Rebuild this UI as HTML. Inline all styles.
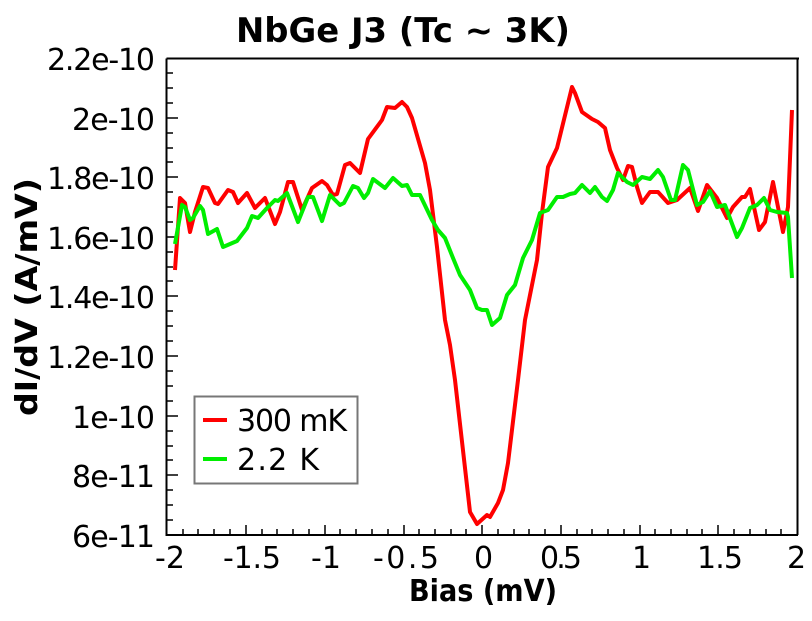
<!DOCTYPE html>
<html><head><meta charset="utf-8"><style>
body{margin:0;background:#fff;}
svg{display:block;font-family:"DejaVu Sans","Liberation Sans",sans-serif;}
</style></head><body>
<svg width="812" height="621" viewBox="0 0 812 621" xmlns="http://www.w3.org/2000/svg">
<rect width="812" height="621" fill="#fff"/>
<text x="236" y="42" font-size="34" font-weight="bold" textLength="334" lengthAdjust="spacingAndGlyphs">NbGe J3 (Tc ~ 3K)</text>
<g stroke="#000" stroke-width="2" fill="none">
<line x1="166.5" y1="58.5" x2="799" y2="58.5"/>
<line x1="797.5" y1="58.5" x2="797.5" y2="535"/>
<line x1="166.5" y1="58.5" x2="166.5" y2="536"/>
<line x1="166" y1="535" x2="798" y2="535"/>
</g>
<g stroke="#000" stroke-width="1.5">
<path d="M166 118h12M166 177h12M166 237h12M166 296h12M166 356h12M166 416h12M166 475h12"/>
<path d="M166 73h7M166 88h7M166 103h7M166 133h7M166 148h7M166 162h7M166 192h7M166 207h7M166 222h7M166 252h7M166 267h7M166 281h7M166 311h7M166 326h7M166 341h7M166 371h7M166 386h7M166 401h7M166 431h7M166 446h7M166 460h7M166 490h7M166 505h7M166 520h7"/>
<path d="M246 535v-10M325 535v-10M404 535v-10M482 535v-10M561 535v-10M640 535v-10M718 535v-10"/>
<path d="M183 535v-6M198 535v-6M214 535v-6M230 535v-6M262 535v-6M277 535v-6M293 535v-6M309 535v-6M340 535v-6M356 535v-6M372 535v-6M388 535v-6M419 535v-6M435 535v-6M451 535v-6M466 535v-6M498 535v-6M514 535v-6M529 535v-6M545 535v-6M577 535v-6M592 535v-6M608 535v-6M624 535v-6M655 535v-6M671 535v-6M687 535v-6M702 535v-6M734 535v-6M750 535v-6M766 535v-6M781 535v-6"/>
</g>
<g font-size="30" lengthAdjust="spacingAndGlyphs">
<text x="47" y="70" textLength="108">2.2e-10</text>
<text x="72" y="130" textLength="83">2e-10</text>
<text x="47" y="189" textLength="108">1.8e-10</text>
<text x="47" y="249" textLength="108">1.6e-10</text>
<text x="47" y="308" textLength="108">1.4e-10</text>
<text x="47" y="368" textLength="108">1.2e-10</text>
<text x="72" y="428" textLength="83">1e-10</text>
<text x="72" y="487" textLength="83">8e-11</text>
<text x="72" y="547" textLength="83">6e-11</text>
</g>
<g font-size="30" lengthAdjust="spacingAndGlyphs">
<text x="155" y="568" textLength="30">-2</text>
<text x="223" y="568" textLength="58">-1.5</text>
<text x="311" y="568" textLength="30">-1</text>
<text x="373" y="568" textLength="66">-0.5</text>
<text x="474" y="568" textLength="17">0</text>
<text x="540" y="568" textLength="42">0.5</text>
<text x="632" y="568" textLength="14">1</text>
<text x="697" y="568" textLength="46">1.5</text>
<text x="787" y="568" textLength="18">2</text>
</g>
<text x="409" y="601" font-size="30" font-weight="bold" textLength="148" lengthAdjust="spacingAndGlyphs">Bias (mV)</text>
<text transform="translate(37,416) rotate(-90)" font-size="30" font-weight="bold" textLength="238" lengthAdjust="spacingAndGlyphs">dI/dV (A/mV)</text>
<polyline fill="none" stroke="#ff0000" stroke-width="4" stroke-linejoin="round" points="175,270 180,198 185,203 190,232 195,212 203,187 208,188 215,203 218,204 228,190 233,192 238,203 247,193 255,208 265,198 275,224 280,212 288,182 293,182 302,210 312,188 322,181 327,185 333,195 337,194 345,165 350,163 360,173 368,139 382,120 387,107 395,108 402,102 407,107 412,118 425,163 430,190 437,247 445,320 450,345 455,380 470,512 477,524 487,515 490,517 498,503 503,490 508,463 518,380 525,320 537,260 542,213 548,167 557,148 572,87 575,93 582,112 592,119 598,122 605,128 610,150 617,168 623,180 628,166 632,167 637,187 642,203 650,192 658,192 668,203 677,200 690,188 698,211 707,185 717,198 727,218 733,207 742,197 745,197 750,189 759,230 765,222 773,182 783,232 788,207 792,110"/>
<polyline fill="none" stroke="#00ee00" stroke-width="4" stroke-linejoin="round" points="175,244 182,205 185,207 190,220 193,218 200,206 203,210 208,234 217,229 223,247 237,241 247,228 252,216 258,218 267,208 275,200 278,201 287,193 298,222 308,197 313,197 322,221 330,195 340,205 344,203 353,186 358,188 364,198 368,193 373,179 385,188 393,178 402,186 407,185 412,195 420,195 432,220 438,230 445,238 453,258 460,275 470,290 477,308 482,310 487,310 492,325 500,318 507,295 515,285 523,258 532,240 540,213 548,210 557,197 563,197 570,194 575,193 582,185 590,193 595,187 602,197 607,201 613,190 618,173 627,182 633,185 642,177 650,179 658,170 663,177 671,200 675,200 683,165 688,170 697,205 703,202 710,191 717,207 725,205 737,237 742,228 750,208 757,205 764,198 770,210 777,212 787,213 788,217 792,278"/>
<rect x="194.5" y="396.5" width="163" height="87" fill="#fff" stroke="#777" stroke-width="2"/>
<line x1="203" y1="420" x2="227" y2="420" stroke="#ff0000" stroke-width="4"/>
<line x1="203" y1="459" x2="227" y2="459" stroke="#00ee00" stroke-width="4"/>
<g font-size="30" lengthAdjust="spacingAndGlyphs"><text x="237" y="431" textLength="110">300 mK</text><text x="237" y="470" textLength="82">2.2 K</text></g>
</svg>
</body></html>
